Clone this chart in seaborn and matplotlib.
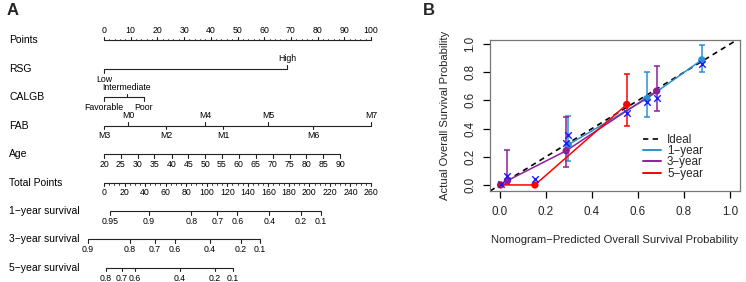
import numpy as np
import pandas as pd
import matplotlib
matplotlib.use("Agg")
import matplotlib.pyplot as plt
import matplotlib.transforms as mtransforms
from matplotlib.lines import Line2D
import seaborn as sns

# ---------------- panel A: nomogram ----------------
row_names = ["Points", "RSG", "CALGB", "FAB", "Age", "Total Points",
             "1\u2212year survival", "3\u2212year survival", "5\u2212year survival"]

points_labels = list(range(0, 101, 10))

rsg_levels = ["Low", "High"]
rsg_points = [0, 68.5]
rsg_above = [False, True]

calgb_levels = ["Favorable", "Intermediate", "Poor"]
calgb_points = [0, 8.6, 15.0]
calgb_above = [False, True, False]

fab_levels = ["M3", "M0", "M2", "M4", "M1", "M5", "M6", "M7"]
fab_points = [0, 9.0, 23.2, 38.0, 44.6, 61.5, 78.3, 100]
fab_above = [False, True, False, True, False, True, False, True]

age_values = [20, 25, 30, 35, 40, 45, 50, 55, 60, 65, 70, 75, 80, 85, 90]
age_points = [0, 6.3, 12.6, 18.9, 25.3, 31.6, 37.9, 44.2, 50.5, 56.8, 63.2,
              69.5, 75.8, 82.1, 88.4]

total_labels = list(range(0, 261, 20))
total_max = 260

surv1_labels = ["0.95", "0.9", "0.8", "0.7", "0.6", "0.4", "0.2", "0.1"]
surv1_total = [5.8, 43.8, 85.2, 110.3, 129.8, 161.0, 191.8, 211.0]
surv3_labels = ["0.9", "0.8", "0.7", "0.6", "0.4", "0.2", "0.1"]
surv3_total = [-15.6, 25.3, 49.7, 69.1, 103.2, 133.4, 151.9]
surv5_labels = ["0.8", "0.7", "0.6", "0.4", "0.2", "0.1"]
surv5_total = [1.9, 17.5, 30.2, 74.0, 108.0, 125.6]

# ---------------- panel B: calibration ----------------
groups = ["1\u2212year", "3\u2212year", "5\u2212year"]
pred_1y = [0.297, 0.638, 0.877]
obs_1y = [0.286, 0.612, 0.888]
lo_1y = [0.17, 0.48, 0.80]
hi_1y = [0.49, 0.80, 0.99]
bc_1y = [0.357, 0.588, 0.857]

pred_3y = [0.033, 0.288, 0.681]
obs_3y = [0.031, 0.243, 0.667]
lo_3y = [0.01, 0.13, 0.524]
hi_3y = [0.245, 0.48, 0.845]
bc_3y = [0.064, 0.30, 0.617]

pred_5y = [0.003, 0.152, 0.551]
obs_5y = [0.0, 0.0, 0.571]
lo_5y = [0.0, 0.0, 0.417]
hi_5y = [0.0, 0.0, 0.786]
bc_5y = [0.005, 0.043, 0.512]

colors = {"1\u2212year": "#2C8FD3", "3\u2212year": "#8E1F9B", "5\u2212year": "#FF0000"}

sns.set_theme(style="white")
plt.rcParams["font.family"] = ["Liberation Sans", "DejaVu Sans"]

fig = plt.figure(figsize=(7.46, 2.82), dpi=100)

# nomogram axes: x = points (0..100), y = row index
axA = fig.add_axes([104 / 746, 0, 267 / 746, 0.9068])
axA.set_xlim(0, 100)
axA.set_ylim(8.5, -0.5)
axA.axis("off")

lc = "#222222"
lw = 0.8
tfs = 6.3
tick_len = 0.13
lab_off = 0.36

label_tr = mtransforms.blended_transform_factory(fig.transFigure, axA.transData)
for i, name in enumerate(row_names):
    axA.text(9 / 746, i, name, transform=label_tr, ha="left", va="center",
             fontsize=7.5, color="black")


def draw_scale(row, pos, labels, above, minor=None, minor_len=0.07):
    axA.plot([min(pos), max(pos)], [row, row], color=lc, lw=lw,
             clip_on=False, solid_capstyle="butt")
    if minor is not None:
        for m in minor:
            axA.plot([m, m], [row, row - minor_len if above[0] else row + minor_len],
                     color=lc, lw=0.6, clip_on=False)
    for p, lab, up in zip(pos, labels, above):
        d = -1 if up else 1
        axA.plot([p, p], [row, row + d * tick_len], color=lc, lw=lw, clip_on=False)
        axA.text(p, row + d * lab_off, lab, ha="center", va="center",
                 fontsize=tfs, color="black", clip_on=False)


# Points
draw_scale(0, points_labels, [str(v) for v in points_labels],
           [True] * len(points_labels), minor=np.arange(0, 101, 2))
# RSG, CALGB, FAB
draw_scale(1, rsg_points, rsg_levels, rsg_above)
draw_scale(2, calgb_points, calgb_levels, calgb_above)
draw_scale(3, fab_points, fab_levels, fab_above)
# Age
draw_scale(4, age_points, [str(v) for v in age_values], [False] * len(age_values))
# Total points
tp_scale = 100 / total_max
draw_scale(5, [v * tp_scale for v in total_labels], [str(v) for v in total_labels],
           [False] * len(total_labels), minor=np.arange(0, 261, 5) * tp_scale)
# survival rows
draw_scale(6, [v * tp_scale for v in surv1_total], surv1_labels, [False] * len(surv1_total))
draw_scale(7, [v * tp_scale for v in surv3_total], surv3_labels, [False] * len(surv3_total))
draw_scale(8, [v * tp_scale for v in surv5_total], surv5_labels, [False] * len(surv5_total))

# ---------------- calibration axes ----------------
axB = fig.add_axes([490 / 746, (282 - 191) / 282, 250 / 746, 151 / 282])

df = pd.concat([
    pd.DataFrame({"group": groups[0], "pred": pred_1y, "obs": obs_1y, "lo": lo_1y, "hi": hi_1y, "bc": bc_1y}),
    pd.DataFrame({"group": groups[1], "pred": pred_3y, "obs": obs_3y, "lo": lo_3y, "hi": hi_3y, "bc": bc_3y}),
    pd.DataFrame({"group": groups[2], "pred": pred_5y, "obs": obs_5y, "lo": lo_5y, "hi": hi_5y, "bc": bc_5y}),
], ignore_index=True)

axB.axline((0, 0), slope=1, color="black", lw=1.2, dashes=(3.2, 2.6), zorder=1)

for g in groups:
    sub = df[df["group"] == g]
    axB.errorbar(sub["pred"], sub["obs"],
                 yerr=[sub["obs"] - sub["lo"], sub["hi"] - sub["obs"]],
                 fmt="none", ecolor=colors[g], elinewidth=1.1, capsize=2.3,
                 capthick=1.1, zorder=2)

sns.lineplot(data=df, x="pred", y="obs", hue="group", palette=colors, sort=False,
             estimator=None, lw=1.1, legend=False, ax=axB, zorder=3)
sns.scatterplot(data=df, x="pred", y="obs", hue="group", palette=colors, s=28,
                edgecolor="none", legend=False, ax=axB, zorder=4)
sns.scatterplot(data=df, x="pred", y="bc", color="#1a1aff", marker="x", s=22,
                linewidth=1.0, legend=False, ax=axB, zorder=5)

axB.set_xlim(-0.043, 1.043)
axB.set_ylim(-0.043, 1.029)
axB.set_xticks([0, 0.2, 0.4, 0.6, 0.8, 1.0])
axB.set_yticks([0, 0.2, 0.4, 0.6, 0.8, 1.0])
axB.set_xticklabels(["0.0", "0.2", "0.4", "0.6", "0.8", "1.0"])
axB.set_yticklabels(["0.0", "0.2", "0.4", "0.6", "0.8", "1.0"])
for lbl in axB.get_yticklabels():
    lbl.set_rotation(90)
    lbl.set_va("center")
axB.tick_params(axis="both", which="major", direction="out", length=5, width=0.9,
                color="black", labelsize=8.4, bottom=True, left=True, pad=5)
axB.tick_params(axis="x", pad=6)
for s in axB.spines.values():
    s.set_color("#777777")
    s.set_linewidth(0.9)
axB.set_xlabel("Nomogram\u2212Predicted Overall Survival Probability", fontsize=8.1, labelpad=12)
axB.set_ylabel("Actual Overall Survival Probability", fontsize=8.1, labelpad=10)

handles = [Line2D([0], [0], color="black", lw=1.2, dashes=(3.2, 2.6))] + \
          [Line2D([0], [0], color=colors[g], lw=1.4) for g in groups]
axB.legend(handles, ["Ideal"] + groups, loc="upper left", bbox_to_anchor=(0.61, 0.38),
           frameon=False, fontsize=8.4, handlelength=1.6, handletextpad=0.5,
           labelspacing=-0.05, borderpad=0, borderaxespad=0)

fig.text(7 / 746, 1 - 3 / 282, "A", fontsize=12, fontweight="bold", ha="left", va="top")
fig.text(423 / 746, 1 - 3 / 282, "B", fontsize=12, fontweight="bold", ha="left", va="top")

fig.savefig("out.png", dpi=100)
